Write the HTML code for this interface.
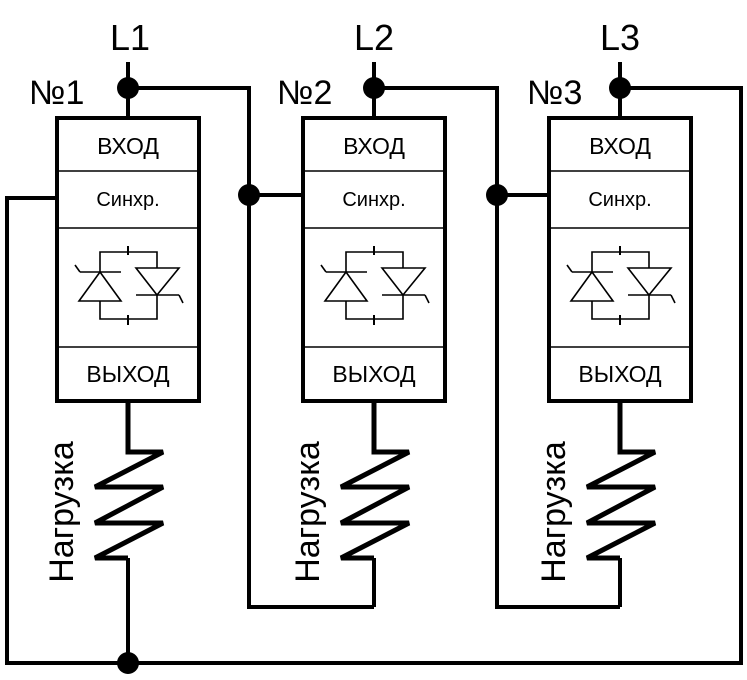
<!DOCTYPE html>
<html><head><meta charset="utf-8"><style>body{margin:0;background:#fff}svg{display:block}</style></head><body>
<svg width="747" height="680" viewBox="0 0 747 680" xmlns="http://www.w3.org/2000/svg" font-family="Liberation Sans, sans-serif">
<defs>
<g id="m">
  <line x1="0" y1="62" x2="0" y2="118" stroke="#000" stroke-width="4"/>
  <circle cx="0" cy="88" r="11" fill="#000"/>
  <rect x="-71" y="118" width="142" height="283" fill="#fff" stroke="#000" stroke-width="4"/>
  <line x1="-71" y1="171" x2="71" y2="171" stroke="#000" stroke-width="1.5"/>
  <line x1="-71" y1="228" x2="71" y2="228" stroke="#000" stroke-width="1.5"/>
  <line x1="-71" y1="347" x2="71" y2="347" stroke="#000" stroke-width="1.5"/>
  <text x="0" y="154" font-size="23" text-anchor="middle">ВХОД</text>
  <text x="0" y="206" font-size="20" text-anchor="middle">Синхр.</text>
  <text x="0" y="382" font-size="23" text-anchor="middle">ВЫХОД</text>
  <g fill="none" stroke="#000" stroke-width="1.6">
    <path d="M-28 272V252H29V268M-28 301V319H29V295"/>
    <path d="M-28 272L-49 301H-7Z"/>
    <path d="M-48 272H-7M-48 272L-53 265"/>
    <path d="M29 295L8 268H51Z"/>
    <path d="M8 295H51M51 295L55 303"/>
    <path d="M0 246V255M0 315V325" stroke-width="2"/>
  </g>
  <path d="M0 401V452H35L-33 487H35L-33 523H35L-33 558H0" fill="none" stroke="#000" stroke-width="5" stroke-linejoin="miter"/>
  <text transform="translate(-55,512) rotate(-90)" font-size="34" text-anchor="middle">Нагрузка</text>
</g>
</defs>
<g fill="none" stroke="#000" stroke-width="4">
  <path d="M128 88H249V607H374"/>
  <path d="M374 88H497V607H620"/>
  <path d="M620 88H741V663H7V198H57"/>
  <path d="M249 195H303"/>
  <path d="M497 195H549"/>
  <path d="M128 558V663"/>
  <path d="M374 558V607"/>
  <path d="M620 558V607"/>
</g>
<use href="#m" x="128"/>
<use href="#m" x="374"/>
<use href="#m" x="620"/>
<g fill="#000">
  <circle cx="249" cy="195" r="11"/>
  <circle cx="497" cy="195" r="11"/>
  <circle cx="128" cy="663" r="11"/>
</g>
<g font-size="36" text-anchor="middle">
  <text x="130" y="50">L1</text>
  <text x="374" y="50">L2</text>
  <text x="620" y="50">L3</text>
</g>
<g font-size="34">
  <text x="29" y="104">№1</text>
  <text x="277" y="104">№2</text>
  <text x="527" y="104">№3</text>
</g>
</svg>
</body></html>
